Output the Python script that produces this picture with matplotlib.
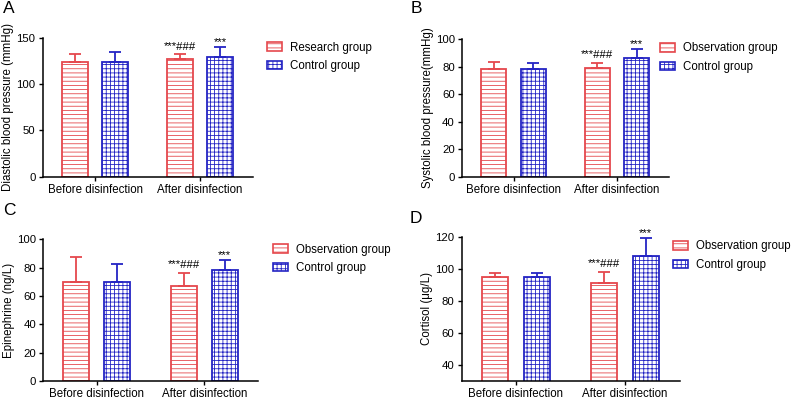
import numpy as np
import matplotlib.pyplot as plt
from matplotlib.patches import Patch

plt.rcParams['font.family'] = ['Liberation Sans', 'DejaVu Sans']
plt.rcParams['hatch.linewidth'] = 0.6

RED = '#E5484D'
BLUE = '#2424C4'

categories = ["Before disinfection", "After disinfection"]

# panel A - diastolic
a_red = [124, 126.5]
a_red_sd = [8, 5.5]
a_blue = [124, 129]
a_blue_sd = [11, 11.5]
# panel B - systolic
b_red = [78.6, 79.1]
b_red_sd = [5.1, 3.9]
b_blue = [78.2, 86.4]
b_blue_sd = [4.3, 6.6]
# panel C - epinephrine
c_red = [69.6, 67.3]
c_red_sd = [17.7, 8.7]
c_blue = [70.1, 78.1]
c_blue_sd = [12.3, 7.5]
# panel D - cortisol
d_red = [94.6, 90.9]
d_red_sd = [2.5, 6.9]
d_blue = [94.6, 108.1]
d_blue_sd = [2.7, 11.3]

red_marks = ["", "***###"]
blue_marks = ["", "***"]

letters = ["A", "B", "C", "D"]
ylabels = ["Diastolic blood pressure (mmHg)", "Systolic blood pressure(mmHg)",
           "Epinephrine (ng/L)", "Cortisol (μg/L)"]
red_names = ["Research group", "Observation group", "Observation group", "Observation group"]
blue_name = "Control group"
ylims = [(0, 150), (0, 100), (0, 100), (30, 120)]
yticks = [[0, 50, 100, 150], [0, 20, 40, 60, 80, 100], [0, 20, 40, 60, 80, 100],
          [40, 60, 80, 100, 120]]

panels = [(a_red, a_red_sd, a_blue, a_blue_sd),
          (b_red, b_red_sd, b_blue, b_blue_sd),
          (c_red, c_red_sd, c_blue, c_blue_sd),
          (d_red, d_red_sd, d_blue, d_blue_sd)]

W, H = 800, 403
# axes boxes in pixels: left, right, top, bottom
boxes = [(42.5, 252.5, 37.7, 176.7), (461.75, 668.75, 39.3, 176.7),
         (43, 258, 239.3, 381), (461.5, 679.5, 236.7, 381)]
legend_pos = [(267, 41.5), (660, 42.5), (273, 243.5), (673, 240.5)]
letter_pos = [(3, 1), (411, 1), (3, 203), (410, 211)]

fig = plt.figure(figsize=(8, 4.03), dpi=100)
x = np.arange(len(categories))
w = 0.24
off = 0.19

for i, (red, red_sd, blue, blue_sd) in enumerate(panels):
    l, r, t, b = boxes[i]
    ax = fig.add_axes([l / W, 1 - b / H, (r - l) / W, (b - t) / H])
    ax.bar(x - off, red, w, facecolor='white', edgecolor=RED, hatch='----', lw=1.3, zorder=2)
    ax.bar(x + off, blue, w, facecolor='white', edgecolor=BLUE, hatch='++++', lw=1.3, zorder=2)
    ax.errorbar(x - off, red, yerr=[np.zeros(2), red_sd], fmt='none', ecolor=RED,
                capsize=4.3, elinewidth=1.3, capthick=1.3, zorder=3)
    ax.errorbar(x + off, blue, yerr=[np.zeros(2), blue_sd], fmt='none', ecolor=BLUE,
                capsize=4.3, elinewidth=1.3, capthick=1.3, zorder=3)
    for j in range(2):
        if red_marks[j]:
            ax.annotate(red_marks[j], xy=(x[j] - off, red[j] + red_sd[j]), xytext=(0, 3.5),
                        textcoords='offset points', ha='center', va='baseline', fontsize=8.2)
        if blue_marks[j]:
            ax.annotate(blue_marks[j], xy=(x[j] + off, blue[j] + blue_sd[j]), xytext=(0, 1),
                        textcoords='offset points', ha='center', va='baseline', fontsize=8.2)
    ax.set_xlim(-0.5, 1.5)
    ax.set_ylim(*ylims[i])
    ax.set_yticks(yticks[i])
    ax.set_xticks(x)
    ax.set_xticklabels(categories, fontsize=8.3)
    ax.tick_params(axis='y', labelsize=8.2, length=3, width=1, pad=2)
    ax.tick_params(axis='x', length=3, width=1, pad=2)
    ax.set_ylabel(ylabels[i], fontsize=8.3, labelpad=1.5)
    ax.spines['top'].set_visible(False)
    ax.spines['right'].set_visible(False)
    ax.spines['left'].set_linewidth(1.1)
    ax.spines['bottom'].set_linewidth(1.1)
    ax.spines['left'].set_bounds(*ylims[i])

    handles = [Patch(facecolor='white', edgecolor=RED, hatch='----', lw=1.2, label=red_names[i]),
               Patch(facecolor='white', edgecolor=BLUE, hatch='++++', lw=1.2, label=blue_name)]
    lx, ly = legend_pos[i]
    ax.legend(handles=handles, loc='upper left', bbox_to_anchor=(lx / W, 1 - ly / H),
              bbox_transform=fig.transFigure, frameon=False, fontsize=8.3,
              handlelength=1.3, handleheight=0.7, handletextpad=0.7,
              labelspacing=0.6, borderpad=0, borderaxespad=0)

    px, py = letter_pos[i]
    fig.text(px / W, 1 - py / H, letters[i], fontsize=12.5, va='top', ha='left')

fig.savefig('out.png', dpi=100)
